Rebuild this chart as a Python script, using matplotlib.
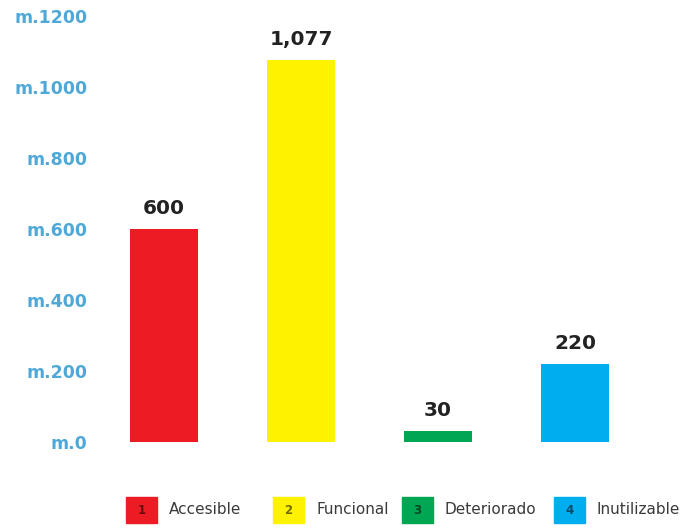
import matplotlib
matplotlib.use("Agg")
import matplotlib.pyplot as plt
from matplotlib.patches import Rectangle
from matplotlib.colors import to_rgb

# Data
categories = ["Accesible", "Funcional", "Deteriorado", "Inutilizable"]
values = [600, 1077, 30, 220]
value_labels = ["600", "1,077", "30", "220"]
bar_colors = ["#ed1c24", "#fff200", "#00a651", "#00aeef"]
y_ticks = [0, 200, 400, 600, 800, 1000, 1200]
y_tick_labels = ["m.0", "m.200", "m.400", "m.600", "m.800", "m.1000", "m.1200"]

W, H = 685, 528
fig = plt.figure(figsize=(W / 100, H / 100), dpi=100)
fig.patch.set_facecolor("white")

ax = fig.add_axes([95.5 / W, (H - 442) / H, 548 / W, 426 / H])
x = list(range(len(categories)))
ax.bar(x, values, width=0.5, color=bar_colors)

for xi, v, lab in zip(x, values, value_labels):
    ax.annotate(lab, (xi, v), xytext=(0, 8), textcoords="offset points",
                ha="center", va="bottom", fontsize=14.5, fontweight="bold",
                color="#222222", family="DejaVu Sans")

ax.set_xlim(-0.5, 3.5)
ax.set_ylim(0, 1200)
ax.set_xticks([])
ax.set_yticks(y_ticks)
ax.set_yticklabels(y_tick_labels)
ax.tick_params(axis="y", length=0, pad=6, labelsize=12.5, labelcolor="#4ea8d8")
for t in ax.get_yticklabels():
    t.set_fontweight("bold")
for s in ax.spines.values():
    s.set_visible(False)

# Legend built from numbered colour squares (pixel positions)
sq_left = [126, 273, 402, 554]
sq_w, sq_top, sq_bot = 31, 497, 523
for i, (name, col) in enumerate(zip(categories, bar_colors)):
    x0 = sq_left[i]
    fig.patches.append(Rectangle((x0 / W, (H - sq_bot) / H), sq_w / W,
                                 (sq_bot - sq_top) / H, color=col,
                                 transform=fig.transFigure, figure=fig))
    dark = tuple(c * 0.45 for c in to_rgb(col))
    yc = (H - (sq_top + sq_bot) / 2) / H
    fig.text((x0 + sq_w / 2) / W, yc, str(i + 1),
             ha="center", va="center", fontsize=8.5, fontweight="bold",
             color=dark)
    fig.text((x0 + sq_w + 12) / W, yc, name,
             ha="left", va="center", fontsize=11, color="#3a3a3a")

fig.savefig("out.png", dpi=100, facecolor="white")
